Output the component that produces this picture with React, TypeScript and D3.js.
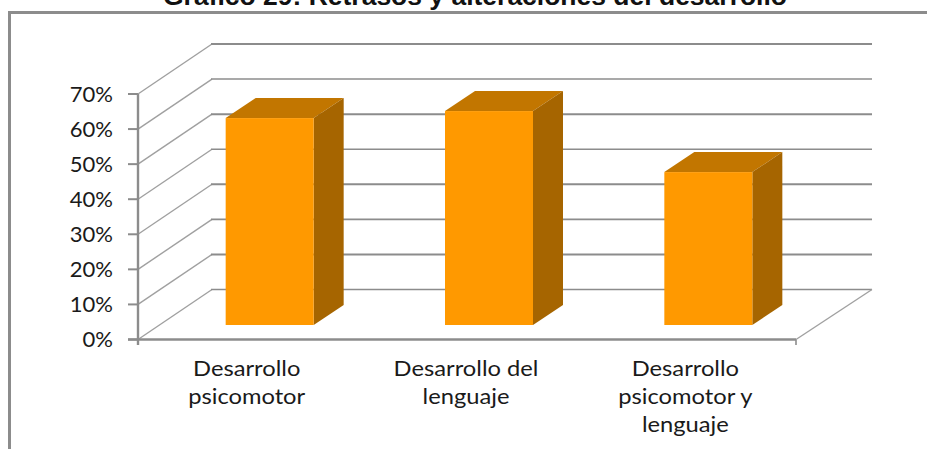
import React from "react";
import * as d3 from "d3";

const categories = ["Desarrollo psicomotor", "Desarrollo del lenguaje", "Desarrollo psicomotor y lenguaje"];
const categoryLines = [["Desarrollo", "psicomotor"], ["Desarrollo del", "lenguaje"], ["Desarrollo", "psicomotor y", "lenguaje"]];
const values = [59, 61, 43.6];
const ticks = [0, 10, 20, 30, 40, 50, 60, 70];
const title = "Gráfico 29: Retrasos y alteraciones del desarrollo";

const W = 927, H = 449;
const y = d3.scaleLinear().domain([0, 70]).range([339.5, 94]);
const x = d3.scaleBand<string>().domain(categories).range([138, 796]);
const wallDx = 74, wallDy = -50;
const floorDx = 22, floorDy = -14.5;
const sideDx = 30, sideDy = -20;
const barW = 88;
const grey = "#8c8c8c";
const pts = (a: number[][]) => a.map((p) => p.join(",")).join(" ");

export default function App() {
  return (
    <svg width={W} height={H} viewBox={`0 0 ${W} ${H}`} style={{ position: "absolute", left: 0, top: 0, background: "#fff" }}>
      <text x={475} y={5} textAnchor="middle" fontFamily="Liberation Sans" fontWeight="bold" fontSize={26} textLength={624} lengthAdjust="spacingAndGlyphs" fill="#111">{title}</text>
      <path d="M9.5 449V12.5H927" fill="none" stroke={grey} strokeWidth={3} />
      {ticks.map((t) => (
        <g key={t}>
          <line x1={138} x2={138 + wallDx} y1={y(t)} y2={y(t) + wallDy} stroke="#a0a0a0" strokeWidth={1.4} />
          <line x1={138 + wallDx - 1} x2={796 + wallDx + 2} y1={y(t) + wallDy} y2={y(t) + wallDy} stroke={grey} strokeWidth={t % 20 === 10 ? 2 : 1.6} />
          <line x1={128} x2={138} y1={y(t)} y2={y(t)} stroke={grey} strokeWidth={2} />
          <text transform={`translate(113,${y(t) + 7.5}) scale(1.05,1)`} textAnchor="end" fontFamily="Lato" fontSize={21} fill="#1a1a1a">{t}%</text>
        </g>
      ))}
      <line x1={796} x2={796 + wallDx + 2} y1={y(0)} y2={y(0) + wallDy} stroke="#a0a0a0" strokeWidth={1.4} />
      <line x1={138} x2={138} y1={y(70)} y2={345} stroke={grey} strokeWidth={2.4} />
      <line x1={128} x2={796} y1={y(0)} y2={y(0)} stroke={grey} strokeWidth={2.4} />
      <line x1={796} x2={796} y1={y(0)} y2={345} stroke={grey} strokeWidth={1.6} />
      {categories.map((c, i) => {
        const mid = x(c)! + x.bandwidth() / 2;
        const l = mid + floorDx - barW / 2, r = l + barW;
        const b = y(0) + floorDy;
        const t = y(values[i]) + floorDy;
        return (
          <g key={c}>
            <polygon points={pts([[l, t], [r, t], [r + sideDx, t + sideDy], [l + sideDx, t + sideDy]])} fill="#c27600" />
            <polygon points={pts([[r, t], [r + sideDx, t + sideDy], [r + sideDx, b + sideDy], [r, b]])} fill="#a66500" />
            <rect x={l} y={t} width={barW} height={b - t} fill="#ff9900" />
            {categoryLines[i].map((s, j) => (
              <text key={s} transform={`translate(${mid - 1},${376 + j * 28}) scale(1.13,1)`} textAnchor="middle" fontFamily="Lato" fontSize={21} fill="#1a1a1a">{s}</text>
            ))}
          </g>
        );
      })}
    </svg>
  );
}
